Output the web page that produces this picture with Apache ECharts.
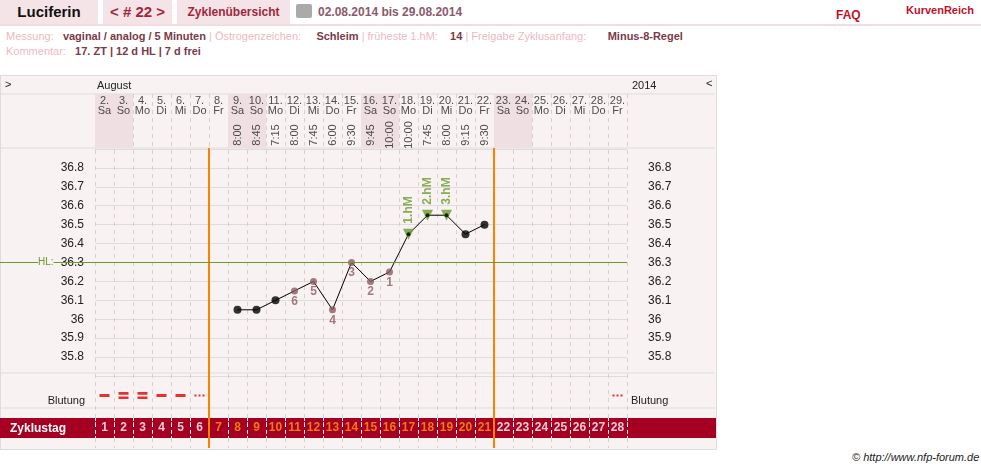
<!DOCTYPE html>
<html><head><meta charset="utf-8">
<script src="https://cdn.jsdelivr.net/npm/echarts@6/dist/echarts.min.js"></script>
<style>
body{margin:0;background:#fff;font-family:'Liberation Sans Narrow','Liberation Sans',Arial,sans-serif;}
.abs{position:absolute;white-space:nowrap}
.tab{position:absolute;top:0;height:24px;background:#f5e4e7;line-height:24px;text-align:center}
.lab{color:#f0b8c0}.val{color:#7a3a48;font-weight:bold}
</style></head><body>
<div class="tab" style="left:0;width:98px;font-size:15px;font-weight:bold;color:#111">Luciferin</div>
<div class="tab" style="left:103px;width:69px;font-size:15px;font-weight:bold;color:#a0283c">&lt; # 22 &gt;</div>
<div class="tab" style="left:177px;width:113px;font-size:12px;font-weight:bold;color:#a0283c">Zyklenübersicht</div>
<div class="abs" style="left:0;top:24px;width:981px;height:2px;background:#f2dde1"></div>
<div class="abs" style="left:296px;top:4px;width:16px;height:14px;background:#aaa;border-radius:2px"></div>
<div class="abs" style="left:318px;top:5px;font-size:12px;font-weight:bold;color:#8b5a6a">02.08.2014 bis 29.08.2014</div>
<div class="abs" style="left:836px;top:8px;font-size:12px;font-weight:bold;color:#c0102a">FAQ</div>
<div class="abs" style="left:906px;top:4px;font-size:11px;font-weight:bold;color:#c0102a">KurvenReich</div>
<div class="abs" style="left:6px;top:30px;font-size:11px"><span class="lab">Messung:</span>&nbsp;&nbsp; <span class="val">vaginal / analog / 5 Minuten</span> <span class="lab">| Östrogenzeichen:</span>&nbsp;&nbsp;&nbsp;&nbsp; <span class="val">Schleim</span> <span class="lab">| früheste 1.hM:</span>&nbsp;&nbsp;&nbsp; <span class="val">14</span> <span class="lab">| Freigabe Zyklusanfang:</span>&nbsp;&nbsp;&nbsp;&nbsp;&nbsp;&nbsp; <span class="val">Minus-8-Regel</span></div>
<div class="abs" style="left:6px;top:45px;font-size:11px"><span class="lab">Kommentar:</span>&nbsp;&nbsp; <span class="val">17. ZT | 12 d HL | 7 d frei</span></div>
<div class="abs" style="left:0;top:75px;width:715px;height:373px;background:#f8f2f2;border:1px solid #ddd"></div>
<div class="abs" style="left:852px;top:451px;font-size:11px;font-style:italic;color:#222">© http://www.nfp-forum.de</div>
<div id="c" class="abs" style="left:0;top:0;width:981px;height:469px"></div>
<script>
const dates=['2.','3.','4.','5.','6.','7.','8.','9.','10.','11.','12.','13.','14.','15.','16.','17.','18.','19.','20.','21.','22.','23.','24.','25.','26.','27.','28.','29.'];
const weekdays=['Sa','So','Mo','Di','Mi','Do','Fr','Sa','So','Mo','Di','Mi','Do','Fr','Sa','So','Mo','Di','Mi','Do','Fr','Sa','So','Mo','Di','Mi','Do','Fr'];
const times=['','','','','','','','8:00','8:45','7:15','8:00','7:45','6:00','9:30','9:45','10:00','10:00','7:45','8:00','9:15','9:30','','','','','','',''];
const tempDays=[8,9,10,11,12,13,14,15,16,17,18,19,20,21];
const temps=[36.05,36.05,36.1,36.15,36.2,36.05,36.3,36.2,36.25,36.45,36.55,36.55,36.45,36.5];
const pointType=['n','n','n','l','l','l','l','l','l','h','h','h','n','n'];
const pointLabel=['','','','6','5','4','3','2','1','1.hM','2.hM','3.hM','',''];
const bleedDays=[1,2,3,4,5,6,28];
const bleedType=['s','d','d','s','s','t','t'];
const cycleDays=Array.from({length:28},(_,i)=>i+1);
const hl=36.3, coverStart=6, coverEnd=21, cycleEnd=28;
const weekendDays=weekdays.map((w,i)=>(w==='Sa'||w==='So')?i+1:null).filter(v=>v);

const F="'Liberation Sans Narrow','Liberation Sans',Arial,sans-serif";
const G={left:95,width:532};
const grids=[
 {...G,top:94,height:354},
 {...G,top:149,height:227},
 {left:0,width:627,top:149,height:227},
 {...G,top:373,height:45},
 {left:0,width:716,top:418,height:20,show:true,backgroundColor:'#a50021',borderWidth:0},
 {...G,top:418,height:20}
];
const xA=[
 {gridIndex:0,type:'value',min:0,max:28,interval:1,axisLine:{show:false},axisTick:{show:false},axisLabel:{show:false},splitLine:{show:true,lineStyle:{color:'#d8d0d0',type:[4,4]}}},
 {gridIndex:1,type:'value',min:0,max:28,show:false},
 {gridIndex:2,type:'value',min:0,max:1,show:false},
 {gridIndex:3,type:'value',min:0,max:28,show:false},
 {gridIndex:4,type:'value',min:0,max:1,show:false},
 {gridIndex:5,type:'value',min:0,max:28,interval:1,axisLine:{show:false},axisTick:{show:false},axisLabel:{show:false},splitLine:{show:true,lineStyle:{color:'#fff',type:[3,3]}}}
];
const tl=v=>(v<35.75||v>36.85)?'':(Math.round(v*10)/10).toString();
const yA=[
 {gridIndex:0,type:'value',min:0,max:354,inverse:true,show:false},
 {gridIndex:1,type:'value',min:35.7,max:36.9,interval:0.1,axisLine:{show:false},axisTick:{show:false},
  axisLabel:{formatter:tl,color:'#222',fontSize:12,fontFamily:F,margin:11},splitLine:{lineStyle:{color:'#ddd'}}},
 {gridIndex:2,type:'value',min:35.7,max:36.9,show:false},
 {gridIndex:3,type:'value',min:0,max:1,show:false},
 {gridIndex:4,type:'value',min:0,max:1,show:false},
 {gridIndex:5,type:'value',min:0,max:1,show:false},
 {gridIndex:1,type:'value',position:'right',min:35.7,max:36.9,interval:0.1,offset:21,axisLine:{show:false},axisTick:{show:false},
  splitLine:{show:false},axisLabel:{formatter:tl,color:'#222',fontSize:12,fontFamily:F,align:'left',margin:0}}
];
const pStyle={n:{color:'#000'},l:{color:'#8b5a60'},h:{color:'#6a9a2a'}};
const scatterData=tempDays.map((d,i)=>{
 const t=pointType[i];
 return {value:[d-0.5,temps[i]],symbol:t==='h'?'triangle':'circle',symbolRotate:t==='h'?180:0,
  symbolSize:t==='h'?11:(t==='l'?7:8),itemStyle:pStyle[t],
  label:{show:!!pointLabel[i],formatter:pointLabel[i],color:t==='h'?'#6a9a2a':'#8b5a60',fontWeight:'bold',fontSize:12,fontFamily:F,
   position:t==='h'?'top':'bottom',rotate:t==='h'?90:0,distance:t==='h'?5:7,align:t==='h'?'left':'center',verticalAlign:'middle'}};
});
const bleedSym={s:'path://M0,0h12v3h-12z',d:'path://M0,0h12v3h-12z M0,5h12v3h-12z',t:'path://M0,0h2v2h-2z M4,0h2v2h-2z M8,0h2v2h-2z'};
const series=[
 {type:'scatter',xAxisIndex:0,yAxisIndex:0,data:dates.map((d,i)=>({value:[i+0.5,12],lbl:d+'\n'+weekdays[i]})),symbolSize:0,silent:true,
  label:{show:true,position:'inside',formatter:p=>p.data.lbl,fontSize:11,lineHeight:10,color:'#222',fontFamily:F},
  markArea:{silent:true,itemStyle:{color:'#efdfe2'},data:weekendDays.map(k=>[{coord:[k-1,0]},{coord:[k,54]}])},
  markLine:{silent:true,symbol:'none',label:{show:false},data:[
   [{coord:[coverStart,54],lineStyle:{color:'#ff8000',width:2,type:'solid'}},{coord:[coverStart,354]}],
   [{coord:[coverEnd,54],lineStyle:{color:'#ff8000',width:2,type:'solid'}},{coord:[coverEnd,354]}],
   [{coord:[cycleEnd,-18],lineStyle:{color:'#d40000',width:3,type:'solid'}},{coord:[cycleEnd,354]}]]}},
 {type:'scatter',xAxisIndex:0,yAxisIndex:0,data:times.map((t,i)=>({value:[i+0.5,41],lbl:t})),symbolSize:0,silent:true,
  label:{show:true,position:'inside',rotate:90,formatter:p=>p.data.lbl,fontSize:11,color:'#222',fontFamily:F}},
 {type:'line',xAxisIndex:1,yAxisIndex:1,data:tempDays.map((d,i)=>[d-0.5,temps[i]]),symbol:'none',lineStyle:{color:'#000',width:1},z:3},
 {type:'scatter',xAxisIndex:1,yAxisIndex:1,data:scatterData,z:4},
 {type:'scatter',xAxisIndex:1,yAxisIndex:1,data:tempDays.map((d,i)=>pointType[i]==='h'?[d-0.5,temps[i]]:null).filter(v=>v),symbolSize:4,itemStyle:{color:'#000'},z:5},
 {type:'line',xAxisIndex:2,yAxisIndex:2,data:[],markLine:{silent:true,symbol:'none',lineStyle:{color:'#6a9a2a',width:1,type:'solid'},
  label:{show:true,position:'insideStartTop',formatter:'HL:',distance:[38,-5],color:'#6a9a2a',fontSize:10,fontFamily:F,backgroundColor:'#f8f2f2'},data:[{yAxis:hl}]}},
 {type:'scatter',xAxisIndex:3,yAxisIndex:3,data:bleedDays.map((d,i)=>({value:[d-0.5,0.5],symbol:bleedSym[bleedType[i]],symbolSize:bleedType[i]==='d'?[10,7]:(bleedType[i]==='s'?[10,3]:[10,2])})),itemStyle:{color:'#e00000'}},
 {type:'scatter',xAxisIndex:5,yAxisIndex:5,symbolSize:0,
  data:cycleDays.map(d=>({value:[d-0.5,0.5],num:d,label:{color:(d>coverStart&&d<=coverEnd)?'#ff9a10':'#fff'}})),
  label:{show:true,position:'inside',formatter:p=>String(p.data.num),fontSize:12,fontWeight:'bold',fontFamily:F,color:'#fff'}}
];
const chart=echarts.init(document.getElementById('c'));
chart.setOption({animation:false,grid:grids,xAxis:xA,yAxis:yA,series,
 graphic:[
  {type:'line',shape:{x1:1,y1:94,x2:715,y2:94},style:{stroke:'#ddd'}},
  {type:'line',shape:{x1:1,y1:148,x2:715,y2:148},style:{stroke:'#ddd'}},
  {type:'line',shape:{x1:1,y1:373,x2:715,y2:373},style:{stroke:'#ddd'}},
  {type:'line',shape:{x1:1,y1:408,x2:715,y2:408},style:{stroke:'#ddd'}},
  {type:'text',left:5,top:79,style:{text:'>',fontSize:11,fill:'#222',fontFamily:F}},
  {type:'text',left:97,top:80,style:{text:'August',fontSize:11,fill:'#222',fontFamily:F}},
  {type:'text',left:632,top:80,style:{text:'2014',fontSize:11,fill:'#222',fontFamily:F}},
  {type:'text',left:706,top:78,style:{text:'<',fontSize:11,fill:'#222',fontFamily:F}},
  {type:'text',right:896,top:395,style:{text:'Blutung',fontSize:11,fill:'#222',fontFamily:F,align:'right'}},
  {type:'text',left:631,top:395,style:{text:'Blutung',fontSize:11,fill:'#222',fontFamily:F}},
  {type:'text',left:10,top:423,z:10,style:{text:'Zyklustag',fontSize:12,fontWeight:'bold',fill:'#fff',fontFamily:F}}
 ]});
</script></body></html>
